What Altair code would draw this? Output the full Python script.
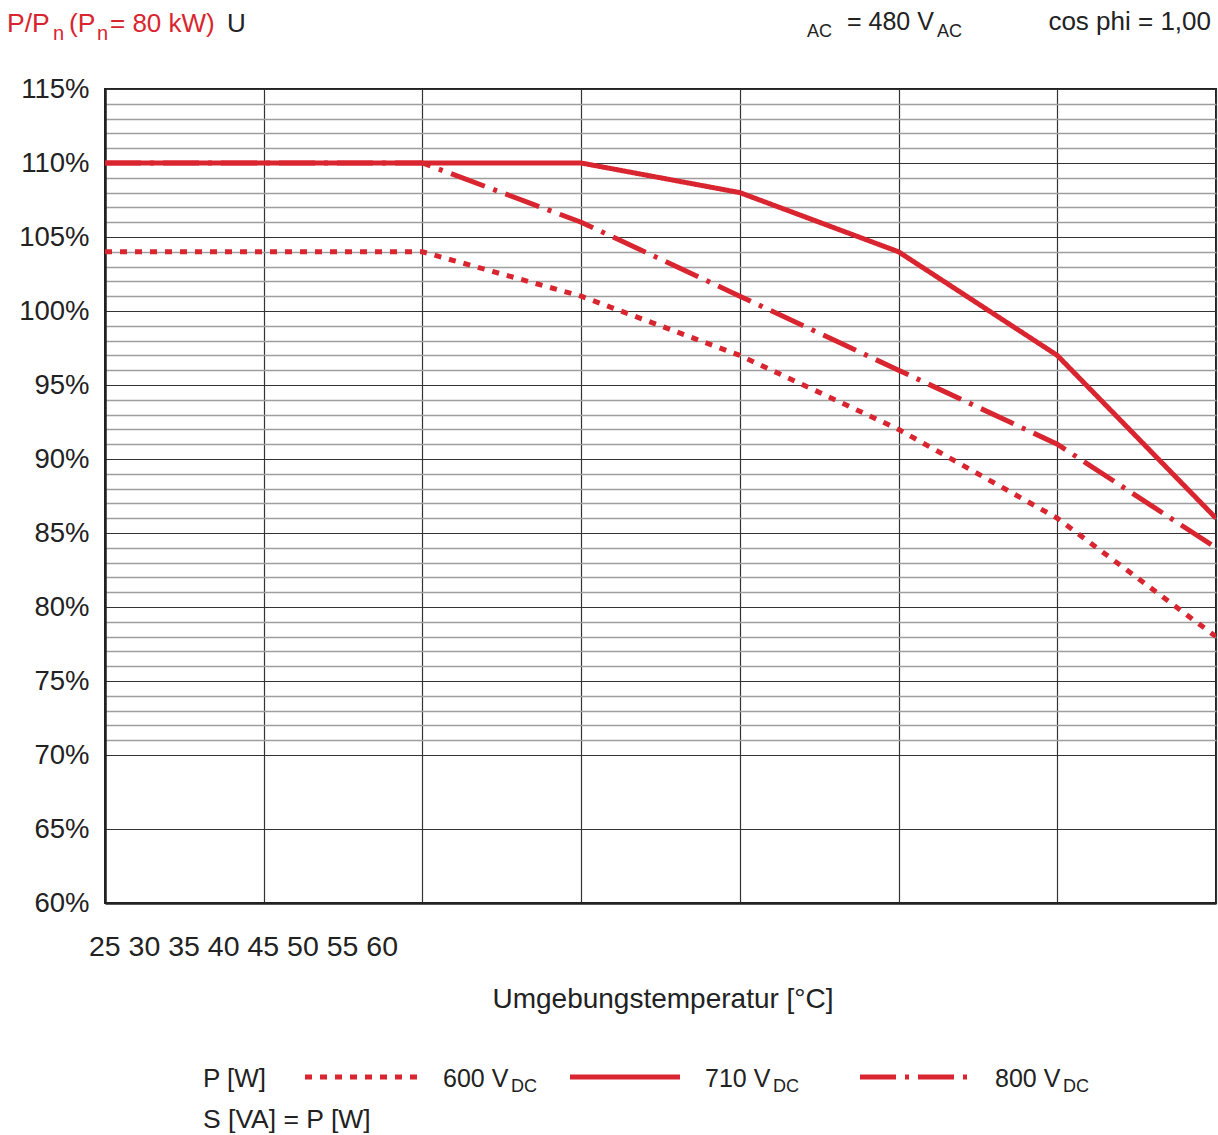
import altair as alt
import pandas as pd

# Derating curves: output power relative to nominal vs. ambient temperature
temps = [25, 30, 35, 40, 45, 50, 55, 60]
p_600 = [104, 104, 104, 101, 97, 92, 86, 78]
p_710 = [110, 110, 110, 110, 108, 104, 97, 86]
p_800 = [110, 110, 110, 106, 101, 96, 91, 84]
series_names = ["600 VDC", "710 VDC", "800 VDC"]
x_ticks = [25, 30, 35, 40, 45, 50, 55, 60]
y_major = [60, 65, 70, 75, 80, 85, 90, 95, 100, 105, 110, 115]
y_minor_from = 70

RED = "#d9252f"
DARK = "#222222"
FONT = "Liberation Sans"

# plot area origin inside the canvas
OX, OY = 105, 89
W, H = 1111, 814

rows = []
for name, vals in zip(series_names, [p_600, p_710, p_800]):
    for t, v in zip(temps, vals):
        rows.append({"temp": t, "pct": v, "series": name})
df = pd.DataFrame(rows)

dash_range = [[7, 8], [1, 0], [36, 9, 4, 9]]

y_values = [v for v in y_major if v < y_minor_from] + list(range(y_minor_from, y_major[-1] + 1))

lines = alt.Chart(df).mark_line(color=RED, strokeWidth=5, strokeCap="butt", clip=True).encode(
    x=alt.X("temp:Q",
            scale=alt.Scale(domain=[x_ticks[0], x_ticks[-1]], nice=False, zero=False),
            axis=alt.Axis(values=x_ticks, labels=False, ticks=False, title=None,
                          grid=True, gridColor="#333333", gridWidth=1.2, gridOpacity=1,
                          domainColor=DARK, domainWidth=2.5)),
    y=alt.Y("pct:Q",
            scale=alt.Scale(domain=[y_major[0], y_major[-1]], nice=False, zero=False),
            axis=alt.Axis(values=y_values, ticks=False, title=None, labelOverlap=False,
                          labelExpr="datum.value % 5 === 0 ? datum.value + '%' : ''",
                          labelFont=FONT, labelFontSize=27.5, labelColor=DARK, labelPadding=16,
                          grid=True, gridOpacity=1,
                          gridColor={"condition": {"test": "datum.value % 5 === 0", "value": "#333333"},
                                     "value": "#9e9e9e"},
                          gridWidth={"condition": {"test": "datum.value % 5 === 0", "value": 1.2},
                                     "value": 1.5},
                          domainColor=DARK, domainWidth=2.5)),
    strokeDash=alt.StrokeDash("series:N",
                              scale=alt.Scale(domain=series_names, range=dash_range),
                              legend=None),
    order=alt.Order("temp:Q"),
)


def label(text, x, y, size=25, color=DARK, align="left", baseline="alphabetic"):
    return alt.Chart(pd.DataFrame({"t": [text]})).mark_text(
        align=align, baseline=baseline, fontSize=size, font=FONT, color=color
    ).encode(text="t:N", x=alt.value(x - OX), y=alt.value(y - OY))


def sample(x1, x2, y, dash):
    return alt.Chart(pd.DataFrame({"a": [0]})).mark_rule(
        color=RED, strokeWidth=5, strokeDash=dash, strokeCap="butt"
    ).encode(x=alt.value(x1 - OX), x2=alt.value(x2 - OX), y=alt.value(y - OY))


texts = [
    # header
    label("P/P", 7, 32, 26.5, RED),
    label("n", 53, 40, 20, RED),
    label("(P", 69, 32, 26.5, RED),
    label("n", 97, 40, 20, RED),
    label("= 80 kW)", 110, 32, 26, RED),
    label("U", 227, 32, 26, DARK),
    label("AC", 807, 37, 18, DARK),
    label("= 480 V", 847, 30, 25, DARK),
    label("AC", 937, 37, 18, DARK),
    label("cos phi = 1,00", 1211, 30, 26, DARK, align="right"),
    # x axis
    label(" ".join(str(t) for t in x_ticks), 89, 956, 28.5, DARK),
    label("Umgebungstemperatur [°C]", 663, 1008, 28, DARK, align="center"),
    # legend
    label("P [W]", 203, 1087, 26, DARK),
    label("600 V", 443, 1087, 25, DARK),
    label("DC", 511, 1092, 18, DARK),
    label("710 V", 705, 1087, 25, DARK),
    label("DC", 773, 1092, 18, DARK),
    label("800 V", 995, 1087, 25, DARK),
    label("DC", 1063, 1092, 18, DARK),
    label("S [VA] = P [W]", 203, 1128, 26.5, DARK),
]

samples = [
    sample(305, 417, 1077, dash_range[0]),
    sample(570, 680, 1077, dash_range[1]),
    sample(860, 970, 1077, dash_range[2]),
]

chart = alt.layer(lines, *samples, *texts).properties(
    width=W,
    height=H,
    autosize=alt.AutoSizeParams(type="none"),
    padding={"left": OX, "top": OY, "right": 1218 - OX - W, "bottom": 1135 - OY - H},
    background="white",
).configure_view(stroke=DARK, strokeWidth=2)

chart.save("out.html", embed_options={"renderer": "svg", "actions": False})
